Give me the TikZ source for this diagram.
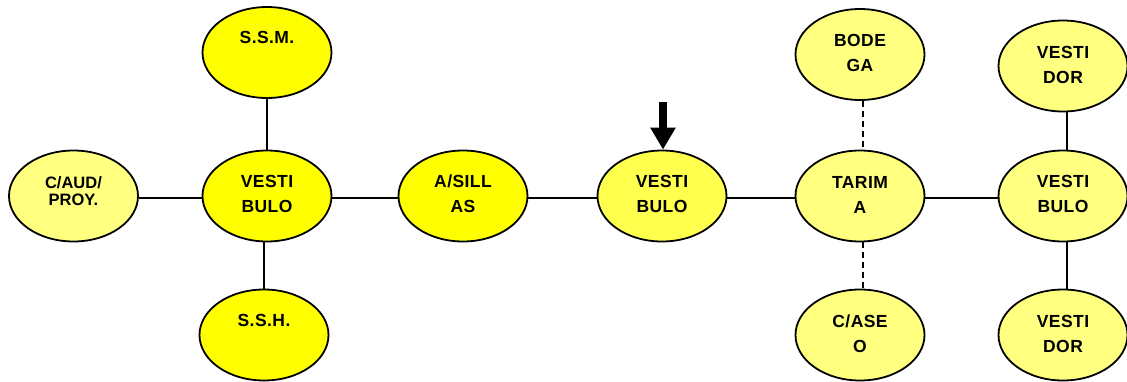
\documentclass[tikz,border=0pt]{standalone}
\usepackage{fontspec}
\setmainfont{Liberation Sans}
\newfontfamily\labfont{Liberation Sans}[LetterSpace=2.5]
\usetikzlibrary{shapes.geometric,arrows.meta}
\definecolor{ybright}{HTML}{FFFF00}
\definecolor{ylight}{HTML}{FFFF80}
\definecolor{ymid}{HTML}{FFFF4D}
\begin{document}
\begin{tikzpicture}[x=1pt,y=-1pt,
  room/.style={ellipse, draw=black, line width=1.8pt, minimum width=129pt, minimum height=91pt, inner sep=0pt},
  lbl/.style={font=\labfont\bfseries\fontsize{17.5}{25}\selectfont, align=center, anchor=base, inner sep=0pt},
  lbltight/.style={font=\bfseries\fontsize{16.5}{16.5}\selectfont, align=center, anchor=base, inner sep=0pt},
  link/.style={line width=1.6pt},
  dlink/.style={line width=1.6pt, dash pattern=on 6pt off 4pt}]
\useasboundingbox (0,0) rectangle (1127,381);
% rooms
\node[room, fill=ylight]  (CAUD) at (73.5,196) {};
\node[room, fill=ybright] (VL)   at (267,196) {};
\node[room, fill=ybright] (SSM)  at (267,52.5) {};
\node[room, fill=ybright] (SSH)  at (264,335) {};
\node[room, fill=ybright] (AS)   at (463,196) {};
\node[room, fill=ymid]    (VM)   at (662,196) {};
\node[room, fill=ylight]  (TA)   at (860,196) {};
\node[room, fill=ylight]  (BO)   at (860,54.5) {};
\node[room, fill=ylight]  (CA)   at (860,335) {};
\node[room, fill=ylight]  (VR)   at (1063,196) {};
\node[room, fill=ylight]  (VDT)  at (1063,66) {};
\node[room, fill=ylight]  (VDB)  at (1063,335) {};
% labels (base anchor = baseline of the last line)
\node[lbltight, yshift=-9pt] (tCAUD) at (CAUD) {C/AUD/\\PROY.};
\node[lbl, yshift=-16.6pt] (tVL)  at (VL)  {VESTI\\BULO};
\node[lbl, yshift=9.5pt]   (tSSM) at (SSM) {S.S.M.};
\node[lbl, yshift=8.3pt]   (tSSH) at (SSH) {S.S.H.};
\node[lbl, yshift=-16.6pt] (tAS)  at (AS)  {A/SILL\\AS};
\node[lbl, yshift=-16.6pt] (tVM)  at (VM)  {VESTI\\BULO};
\node[lbl, yshift=-17pt]   (tTA)  at (TA)  {TARIM\\A};
\node[lbl, yshift=-17pt]   (tBO)  at (BO)  {BODE\\GA};
\node[lbl, yshift=-17pt]   (tCA)  at (CA)  {C/ASE\\O};
\node[lbl, yshift=-16.6pt] (tVR)  at (VR)  {VESTI\\BULO};
\node[lbl, yshift=-17pt]   (tVDT) at (VDT) {VESTI\\DOR};
\node[lbl, yshift=-17pt]   (tVDB) at (VDB) {VESTI\\DOR};
% connectors
\draw[link] ([yshift=-2pt]CAUD.east) -- ([yshift=-2pt]VL.west);
\draw[link] ([yshift=-2pt]VL.east) -- ([yshift=-2pt]AS.west);
\draw[link] ([yshift=-2pt]AS.east) -- ([yshift=-2pt]VM.west);
\draw[link] ([yshift=-2pt]VM.east) -- ([yshift=-2pt]TA.west);
\draw[link] ([yshift=-2pt]TA.east) -- ([yshift=-2pt]VR.west);
\draw[link] (SSM.south) -- (VL.north);
\draw[link] (SSH.north) -- (SSH.north |- VL.south);
\draw[dlink] ([xshift=3pt]BO.south) -- ([xshift=3pt]TA.north);
\draw[dlink] ([xshift=3pt]TA.south) -- ([xshift=3pt]CA.north);
\draw[link] ([xshift=4pt]VDT.south) -- ([xshift=4pt]VR.north);
\draw[link] ([xshift=4pt]VR.south) -- ([xshift=4pt]VDB.north);
% entry arrow
\coordinate (AT) at (663,102);
\draw[line width=8pt, -{Triangle[width=24pt,length=22pt]}] (AT) -- (AT |- VM.north);
\end{tikzpicture}
\end{document}
